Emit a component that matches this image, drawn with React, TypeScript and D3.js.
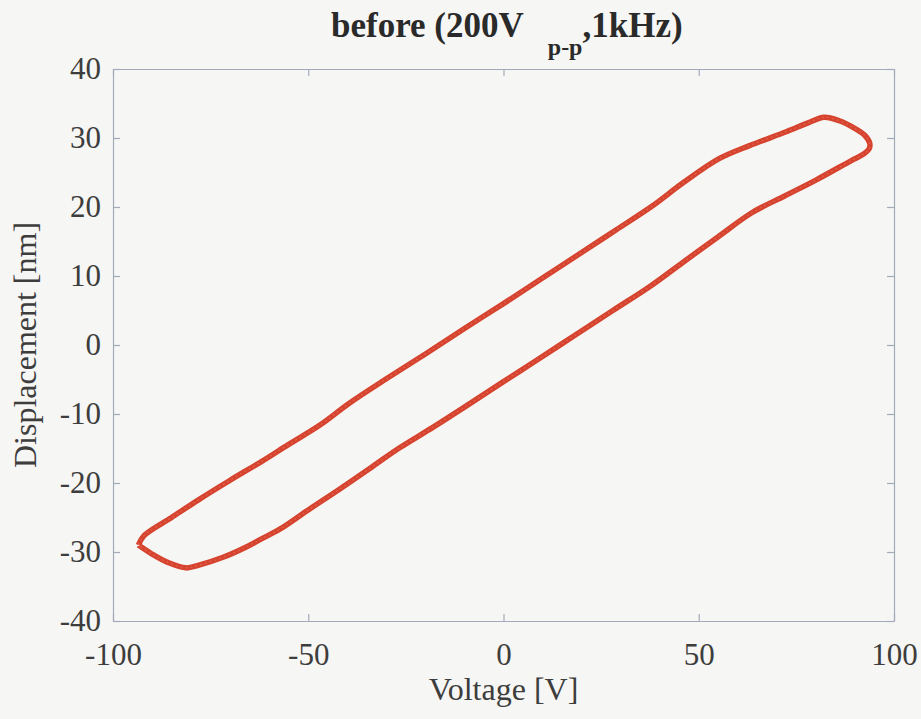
import React, { useEffect, useRef } from 'react';
import * as d3 from 'd3';

// hysteresis loop (voltage [V], displacement [nm])
const upperVolt = [-93.5, -92, -85, -78, -70, -62, -55, -47, -39.4, -30, -20, -10, 0, 10, 20, 28.9, 38, 46, 55.2, 63, 72.4, 78, 82.1, 86, 89.3, 92.5, 93.8];
const upperDisp = [-29.0, -27.6, -25.0, -22.4, -19.6, -16.9, -14.4, -11.6, -8.4, -4.9, -1.3, 2.4, 6.0, 9.7, 13.4, 16.7, 20.1, 23.5, 27.0, 28.9, 30.9, 32.2, 33.0, 32.5, 31.6, 30.4, 29.2];
const lowerVolt = [93.6, 92, 89.3, 80, 72, 63.7, 55, 46, 37.3, 28, 18, 8, 0, -10, -18, -26.6, -33.5, -42, -50, -57.3, -62, -66, -72, -78, -81.3, -86, -90, -93.5];
const lowerDisp = [28.4, 27.6, 26.8, 23.9, 21.6, 19.2, 15.7, 12.0, 8.4, 5.0, 1.3, -2.4, -5.3, -9.0, -11.9, -14.9, -17.6, -20.9, -23.9, -26.7, -28.1, -29.3, -30.8, -31.9, -32.3, -31.5, -30.3, -29.0];

const xTicks = [-100, -50, 0, 50, 100];
const yTicks = [-40, -30, -20, -10, 0, 10, 20, 30, 40];

const W = 921;
const H = 719;
const margin = { top: 69, right: 27, bottom: 98, left: 113 };
const axisColor = '#a3abba';
const textColor = '#3d3d3d';
const serif = "'Liberation Serif', 'Times New Roman', serif";

export default function App() {
  const ref = useRef<SVGSVGElement>(null);

  useEffect(() => {
    const svg = d3.select(ref.current);
    svg.selectAll('*').remove();

    const width = W - margin.left - margin.right;
    const height = H - margin.top - margin.bottom;

    const x = d3.scaleLinear().domain([-100, 100]).range([0, width]);
    const y = d3.scaleLinear().domain([-40, 40]).range([height, 0]);
    const fmt = (d: any) => String(d); // plain hyphen, like the original

    svg.append('rect').attr('width', W).attr('height', H).attr('fill', '#f6f6f4');

    const g = svg.append('g').attr('transform', `translate(${margin.left},${margin.top})`);

    const styleAxis = (sel: any) => {
      sel.select('.domain').attr('stroke', axisColor).attr('stroke-width', 1.2);
      sel.selectAll('.tick line').attr('stroke', axisColor).attr('stroke-width', 1.2);
      sel.selectAll('.tick text')
        .attr('fill', textColor)
        .style('font-family', serif)
        .style('font-size', '31px');
    };

    g.append('g')
      .attr('transform', `translate(0,${height})`)
      .call(d3.axisBottom(x).tickValues(xTicks).tickFormat(fmt).tickSizeInner(-7).tickSizeOuter(0).tickPadding(22))
      .call(styleAxis);
    g.append('g')
      .call(d3.axisTop(x).tickValues(xTicks).tickSizeInner(-7).tickSizeOuter(0).tickFormat(() => ''))
      .call(styleAxis);
    g.append('g')
      .call(d3.axisLeft(y).tickValues(yTicks).tickFormat(fmt).tickSizeInner(-7).tickSizeOuter(0).tickPadding(12))
      .call(styleAxis);
    g.append('g')
      .attr('transform', `translate(${width},0)`)
      .call(d3.axisRight(y).tickValues(yTicks).tickSizeInner(-7).tickSizeOuter(0).tickFormat(() => ''))
      .call(styleAxis);

    const pts: [number, number][] = [
      ...upperVolt.map((v, i) => [v, upperDisp[i]] as [number, number]),
      ...lowerVolt.map((v, i) => [v, lowerDisp[i]] as [number, number]),
    ];
    const line = d3.line<[number, number]>()
      .x((d) => x(d[0]))
      .y((d) => y(d[1]))
      .curve(d3.curveCatmullRom.alpha(0.5));

    g.append('path')
      .datum(pts)
      .attr('d', line)
      .attr('fill', 'none')
      .attr('stroke', '#d6432e')
      .attr('stroke-width', 5.5)
      .attr('stroke-linejoin', 'round');
    g.append('path')
      .datum(pts)
      .attr('d', line)
      .attr('fill', 'none')
      .attr('stroke', '#e5705c')
      .attr('stroke-width', 1.2)
      .attr('stroke-dasharray', '2 3')
      .attr('opacity', 0.7);

    // axis labels
    svg.append('text')
      .attr('x', margin.left + width / 2)
      .attr('y', 700)
      .attr('text-anchor', 'middle')
      .attr('fill', textColor)
      .style('font-family', serif)
      .style('font-size', '32px')
      .text('Voltage [V]');
    svg.append('text')
      .attr('transform', `translate(36,${margin.top + height / 2}) rotate(-90)`)
      .attr('text-anchor', 'middle')
      .attr('fill', textColor)
      .style('font-family', serif)
      .style('font-size', '32px')
      .text('Displacement [nm]');

    // title with subscript
    const t = svg.append('text')
      .attr('x', 331)
      .attr('y', 37)
      .attr('fill', '#2a2a2a')
      .style('font-family', serif)
      .style('font-size', '35px')
      .style('font-weight', 'bold');
    t.append('tspan').text('before (200V');
    t.append('tspan').attr('dx', 24).attr('dy', 18).style('font-size', '24px').text('p-p');
    t.append('tspan').attr('dy', -18).text(',1kHz)');
  }, []);

  return (
    <div style={{ position: 'absolute', left: 0, top: 0 }}>
      <svg ref={ref} width={W} height={H}></svg>
    </div>
  );
}
